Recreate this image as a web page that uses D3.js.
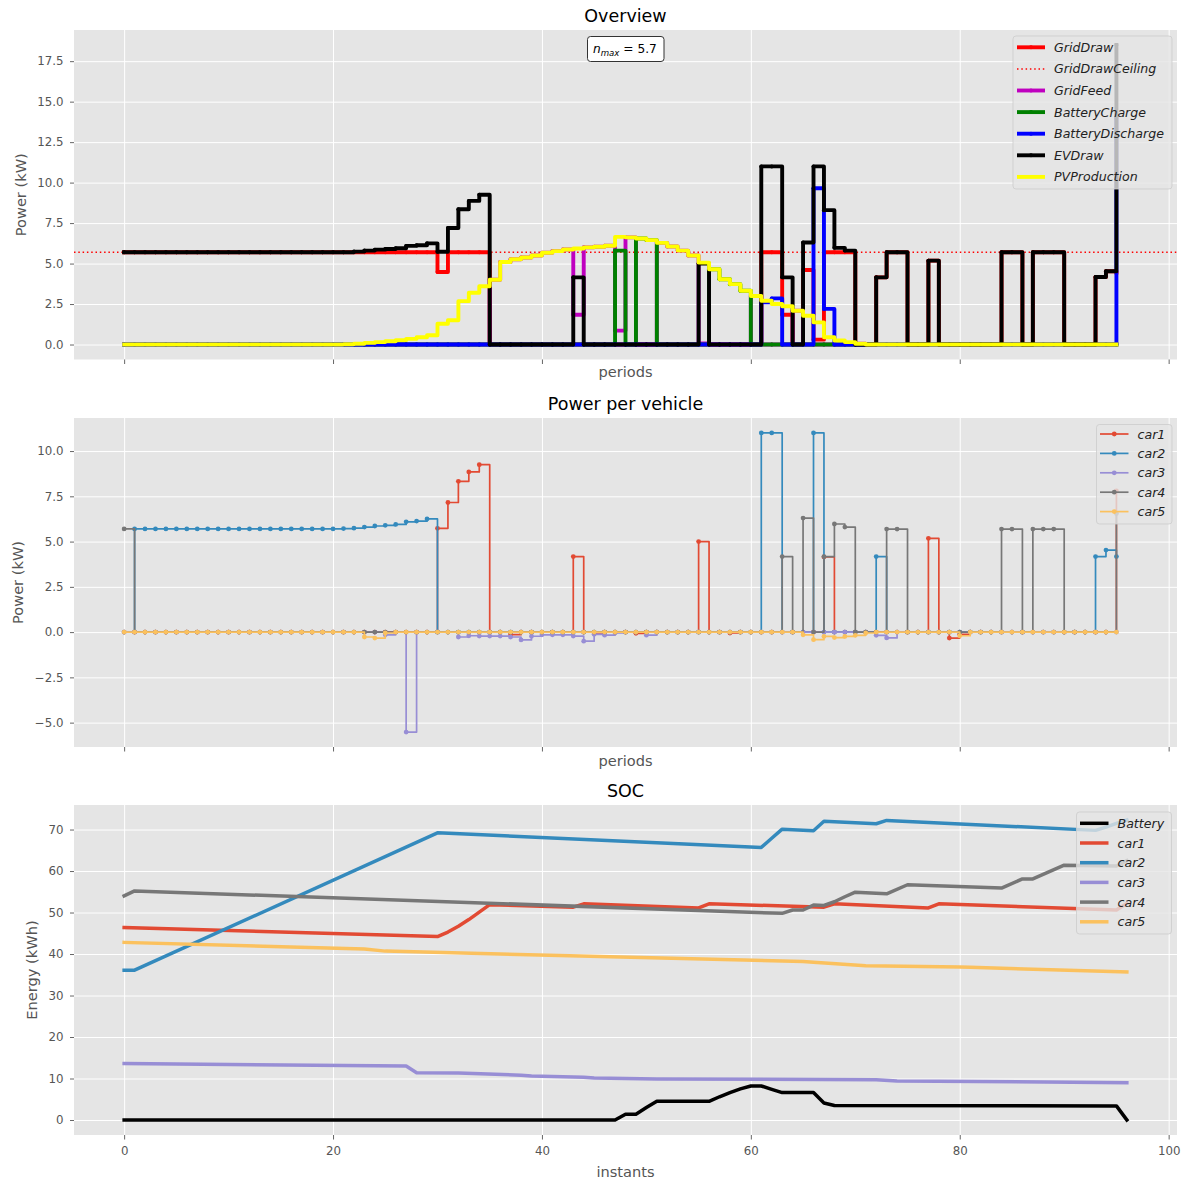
<!DOCTYPE html>
<html>
<head>
<meta charset="utf-8">
<script src="https://cdn.jsdelivr.net/npm/d3@7/dist/d3.min.js"></script>
<style>
  html, body { margin: 0; padding: 0; background: #ffffff; }
  svg { display: block; font-family: "DejaVu Sans", sans-serif; }
</style>
</head>
<body>
<svg id="chart" width="1190" height="1183"></svg>
<script>
// ---------------- data ----------------
const periods = d3.range(96);              // 15-minute periods 0..95
const xTicks = [0, 20, 40, 60, 80, 100];
const overviewTicks = [0, 2.5, 5, 7.5, 10, 12.5, 15, 17.5];
const vehicleTicks = [-5, -2.5, 0, 2.5, 5, 7.5, 10];
const socTicks = [0, 10, 20, 30, 40, 50, 60, 70];
const gridDrawCeiling = 5.7;
const nMax = 5.7;

// Overview (kW per period)
const gridDraw = [
  5.7,5.7,5.7,5.7,5.7,5.7,5.7,5.7,5.7,5.7,      // 0-9
  5.7,5.7,5.7,5.7,5.7,5.7,5.7,5.7,5.7,5.7,      // 10-19
  5.7,5.7,5.7,5.7,5.7,5.7,5.7,5.7,5.7,5.7,      // 20-29
  4.48,5.7,5.7,5.7,5.7,0,0,0,0,0,               // 30-39
  0,0,0,0,0,0,0,0,0,0,                          // 40-49
  0,0,0,0,0,0,0,0,0,0,                          // 50-59
  0,5.7,5.7,1.84,0,4.6,0.3,5.7,5.7,5.7,         // 60-69
  0,0,4.15,5.7,5.7,0,0,5.18,0,0,                // 70-79
  0,0,0,0,5.7,5.7,0,5.7,5.7,5.7,                // 80-89
  0,0,0,4.17,4.53,4.45                          // 90-95
];
const gridFeed = [
  0,0,0,0,0,0,0,0,0,0,
  0,0,0,0,0,0,0,0,0,0,
  0,0,0,0,0,0,0,0,0,0,
  0,0,0,0,0,4.0,5.1,5.27,5.37,5.5,
  5.67,5.77,5.87,1.84,6.0,6.04,6.1,0.86,6.62,0,
  0,6.28,6.05,5.8,5.5,0.06,0,0,0,0,
  3.0,0,0,0,2.09,0,0,0,0,0,
  0.05,0,0,0,0,0,0,0,0,0,
  0,0,0,0,0,0,0,0,0,0,
  0,0,0,0,0,0
];
const batteryCharge = [
  0,0,0,0,0,0,0,0,0,0,
  0,0,0,0,0,0,0,0,0,0,
  0,0,0,0,0,0,0,0,0,0,
  0,0,0,0,0,0,0,0,0,0,
  0,0,0,0,0,0,0,5.8,0,6.55,
  6.45,0,0,0,0,0,4.65,4.03,3.73,3.32,
  0,0,0,0,0,0,0,0,0,0,
  0,0,0,0,0,0,0,0,0,0,
  0,0,0,0,0,0,0,0,0,0,
  0,0,0,0,0,0
];
const batteryDischarge = [
  0,0,0,0,0,0,0,0,0,0,
  0,0,0,0,0,0,0,0,0,0,
  0,0,0,0,0,0,0,0,0,0,
  0,0,0,0,0,0,0,0,0,0,
  0,0,0,0,0,0,0,0,0,0,
  0,0,0,0,0,0,0,0,0,0,
  0,2.6,2.85,0,0,0,9.65,2.2,0,0,
  0,0,0,0,0,0,0,0,0,0,
  0,0,0,0,0,0,0,0,0,0,
  0,0,0,0,0,14.0
];
const evDraw = [
  5.7,5.7,5.7,5.7,5.7,5.7,5.7,5.7,5.7,5.7,
  5.7,5.7,5.7,5.7,5.7,5.7,5.7,5.7,5.7,5.7,
  5.7,5.7,5.74,5.8,5.86,5.9,5.95,6.09,6.13,6.25,
  5.73,7.2,8.35,8.87,9.25,0,0,0,0,0,
  0,0,0,4.15,0,0,0,0,0,0,
  0,0,0,0,0,5.0,0,0,0,0,
  0,11.0,11.0,4.15,0,6.3,11.0,8.3,5.97,5.8,
  0,0,4.15,5.7,5.7,0,0,5.18,0,0,
  0,0,0,0,5.7,5.7,0,5.7,5.7,5.7,
  0,0,0,4.17,4.53,18.5
];
const pvProduction = [
  0,0,0,0,0,0,0,0,0,0,
  0,0,0,0,0,0,0,0,0,0,
  0,0.02,0.05,0.1,0.15,0.2,0.27,0.35,0.45,0.57,
  1.28,1.5,2.68,3.2,3.6,4.0,5.1,5.27,5.37,5.5,
  5.67,5.77,5.87,5.93,6.0,6.04,6.1,6.65,6.62,6.55,
  6.45,6.28,6.05,5.8,5.5,5.06,4.65,4.03,3.73,3.32,
  3.0,2.7,2.5,2.36,2.09,1.78,1.37,0.45,0.25,0.15,
  0.05,0,0,0,0,0,0,0,0,0,
  0,0,0,0,0,0,0,0,0,0,
  0,0,0,0,0,0
];

// Power per vehicle (kW per period)
const car1 = [
  0,0,0,0,0,0,0,0,0,0,
  0,0,0,0,0,0,0,0,0,0,
  0,0,0,0,0,0,0,0,0,0,
  5.73,7.16,8.33,8.85,9.25,0,0,-0.14,0,0,
  0,0,0,4.17,0,-0.05,0,0,0,-0.07,
  0,0,0,0,0,5.0,0,0,-0.05,0,
  0,0,0,0,0,0,0,4.15,0,0,
  0,0,0,0,0,0,0,5.18,0,-0.33,
  -0.12,0,0,0,0,0,0,0,0,0,
  0,0,0,0,0,7.8
];
const car2 = [
  0,5.7,5.7,5.7,5.7,5.7,5.7,5.7,5.7,5.7,
  5.7,5.7,5.7,5.7,5.7,5.7,5.7,5.7,5.7,5.7,
  5.7,5.72,5.74,5.8,5.86,5.9,5.95,6.09,6.13,6.25,
  0,0,0,0,0,0,0,0,0,0,
  0,0,0,0,0,0,0,0,0,0,
  0,0,0,0,0,0,0,0,0,0,
  0,11.0,11.0,0,0,0,11.0,0,0,0,
  0,0,4.17,0,0,0,0,0,0,0,
  0,0,0,0,0,0,0,0,0,0,
  0,0,0,4.17,4.53,4.17
];
const car3 = [
  0,0,0,0,0,0,0,0,0,0,
  0,0,0,0,0,0,0,0,0,0,
  0,0,0,0,0,-0.15,0,-5.52,0,0,
  0,0,-0.27,-0.2,-0.22,-0.22,-0.22,-0.27,-0.43,-0.23,
  -0.15,-0.15,-0.15,-0.22,-0.5,-0.12,-0.17,-0.05,0,0,
  -0.17,0,0,0,0,0,0,0,0,0,
  0,0,0,0,0,0,0,0,0,0,
  0,0,-0.18,-0.32,0,0,0,0,0,0,
  0,0,0,0,0,0,0,0,0,0,
  0,0,0,0,0,0
];
const car4 = [
  5.7,0,0,0,0,0,0,0,0,0,
  0,0,0,0,0,0,0,0,0,0,
  0,0,0,0,0,0,0,0,0,0,
  0,0,0,0,0,0,0,0,0,0,
  0,0,0,0,0,0,0,0,0,0,
  0,0,0,0,0,0,0,0,0,0,
  0,0,0,4.17,0,6.3,0,4.17,5.97,5.8,
  0,0,0,5.69,5.69,0,0,0,0,0,
  0,0,0,0,5.69,5.69,0,5.69,5.69,5.69,
  0,0,0,0,0,6.55
];
const car5 = [
  0,0,0,0,0,0,0,0,0,0,
  0,0,0,0,0,0,0,0,0,0,
  0,0,0,-0.27,-0.33,-0.05,0,0,0,0,
  0,0,0,0,0,0,0,0,0,0,
  0,0,0,0,0,0,0,0,0,0,
  0,0,0,0,0,0,0,0,0,0,
  0,0,0,0,0,-0.15,-0.42,-0.24,-0.3,-0.24,
  -0.18,-0.05,0,0,0,0,0,0,0,0,
  -0.2,0,0,0,0,0,0,0,0,0,
  0,0,0,0,0,0
];

// State of charge (kWh) at the instants where each trace changes slope
const socBattery = [[0,0],[47,0],[48,1.4],[49,1.4],[50,3.0],[51,4.5],[56,4.5],[57,5.6],[58,6.6],[59,7.5],[60,8.2],[61,8.2],[62,7.4],[63,6.6],[66,6.6],[67,4.1],[68,3.5],[95,3.4],[96,0]];
const socCar1 = [[0,46.4],[30,44.2],[31,45.3],[32,46.7],[33,48.3],[34,50.1],[35,51.9],[43,51.3],[44,52.1],[55,51.1],[56,52.1],[67,51.3],[68,52.1],[77,51.1],[78,52.1],[95,50.6],[96,52.2]];
const socCar2 = [[0,36.1],[1,36.1],[30,69.2],[61,65.7],[62,67.9],[63,70.1],[66,69.7],[67,72.0],[72,71.4],[73,72.2],[93,69.8],[94,70.6],[95,71.5],[96,72.3]];
const socCar3 = [[0,13.6],[27,13.0],[28,11.4],[32,11.3],[38,10.8],[39,10.6],[44,10.3],[45,10.1],[51,9.9],[72,9.7],[74,9.4],[96,9.0]];
const socCar4 = [[0,54.0],[1,55.2],[63,49.8],[64,50.6],[65,50.6],[66,51.8],[67,51.7],[68,52.6],[69,53.8],[70,54.9],[73,54.5],[75,56.7],[84,55.9],[86,58.1],[87,58.1],[90,61.4],[95,61.2],[96,62.5]];
const socCar5 = [[0,42.8],[23,41.2],[25,40.7],[65,38.2],[66,38.0],[71,37.2],[80,36.9],[81,36.8],[96,35.7]];

// ---------------- layout & style ----------------
const svg = d3.select("#chart");
const AX = { left: 74, right: 1177 };
const PANELS = [
  { top: 30,  bottom: 359.5 },
  { top: 418, bottom: 747 },
  { top: 805, bottom: 1135 }
];
const TICK_FONT = 11.8, LABEL_FONT = 14.6, TITLE_FONT = 17.5, LEGEND_FONT = 12.6;
const GREY = "#555555";
const ggplot = ["#E24A33", "#348ABD", "#988ED5", "#777777", "#FBC15E"];
const OVERVIEW_LW = 3.9;

const x = d3.scaleLinear().domain([-4.8, 100.8]).range([AX.left, AX.right]);

function padded(arr) {
  const lo = d3.min(arr), hi = d3.max(arr), m = (hi - lo) * 0.05;
  return [lo - m, hi + m];
}

function drawFrame(idx, p, y, yTicks, yFmt, o) {
  const g = svg.append("g");
  g.append("rect")
    .attr("x", AX.left).attr("y", p.top)
    .attr("width", AX.right - AX.left).attr("height", p.bottom - p.top)
    .attr("fill", "#E5E5E5");

  const styleGrid = s => {
    s.select(".domain").remove();
    s.selectAll("line").attr("stroke", "#ffffff").attr("stroke-width", 1);
  };
  g.append("g").attr("transform", `translate(0,${p.bottom})`)
    .call(d3.axisBottom(x).tickValues(xTicks).tickSize(-(p.bottom - p.top)).tickFormat(""))
    .call(styleGrid);
  g.append("g").attr("transform", `translate(${AX.left},0)`)
    .call(d3.axisLeft(y).tickValues(yTicks).tickSize(-(AX.right - AX.left)).tickFormat(""))
    .call(styleGrid);

  const styleTicks = s => {
    s.select(".domain").remove();
    s.selectAll("line").attr("stroke", GREY).attr("stroke-width", 0.9);
    s.selectAll("text").attr("fill", GREY).attr("font-size", TICK_FONT)
      .attr("font-family", "DejaVu Sans");
  };
  g.append("g").attr("transform", `translate(${AX.left},0)`)
    .call(d3.axisLeft(y).tickValues(yTicks).tickSize(4).tickPadding(6.5).tickFormat(yFmt))
    .call(styleTicks);
  g.append("g").attr("transform", `translate(0,${p.bottom})`)
    .call(d3.axisBottom(x).tickValues(xTicks).tickSize(4.5).tickPadding(7)
      .tickFormat(o.xLabels ? d3.format("d") : ""))
    .call(styleTicks);

  svg.append("text")
    .attr("x", (AX.left + AX.right) / 2).attr("y", p.top - 8)
    .attr("text-anchor", "middle").attr("font-size", TITLE_FONT).attr("fill", "#000")
    .text(o.title);
  svg.append("text")
    .attr("x", (AX.left + AX.right) / 2).attr("y", p.bottom + o.xLabelOffset)
    .attr("text-anchor", "middle").attr("font-size", LABEL_FONT).attr("fill", GREY)
    .text(o.xLabel);
  svg.append("text")
    .attr("transform", `translate(${o.yLabelX},${(p.top + p.bottom) / 2}) rotate(-90)`)
    .attr("text-anchor", "middle").attr("font-size", LABEL_FONT).attr("fill", GREY)
    .text(o.yLabel);

  svg.append("clipPath").attr("id", "clip" + idx)
    .append("rect").attr("x", AX.left).attr("y", p.top)
    .attr("width", AX.right - AX.left).attr("height", p.bottom - p.top);
  return svg.append("g").attr("clip-path", `url(#clip${idx})`);
}

function drawLegend(box, items, row0, step, sx0, sx1, tx) {
  const g = svg.append("g");
  g.append("rect")
    .attr("x", box.x0).attr("y", box.y0)
    .attr("width", box.x1 - box.x0).attr("height", box.y1 - box.y0)
    .attr("rx", 3).attr("fill", "#E5E5E5").attr("fill-opacity", 0.8)
    .attr("stroke", "#CCCCCC").attr("stroke-opacity", 0.8).attr("stroke-width", 1);
  items.forEach((it, i) => {
    const yy = row0 + i * step;
    g.append("line")
      .attr("x1", sx0).attr("x2", sx1).attr("y1", yy).attr("y2", yy)
      .attr("stroke", it.color).attr("stroke-width", it.width)
      .attr("stroke-dasharray", it.dash || null);
    if (it.marker) {
      g.append("circle").attr("cx", (sx0 + sx1) / 2).attr("cy", yy)
        .attr("r", it.marker).attr("fill", it.color);
    }
    g.append("text")
      .attr("x", tx).attr("y", yy).attr("dy", "0.36em")
      .attr("font-size", LEGEND_FONT).attr("font-style", "italic").attr("fill", "#222")
      .text(it.name);
  });
}

// ---------------- panel 1: overview ----------------
const overviewSeries = [
  { name: "GridDraw",         values: gridDraw,         color: "#FF0000", marker: 2 },
  { name: "GridFeed",         values: gridFeed,         color: "#BF00BF", marker: 2 },
  { name: "BatteryCharge",    values: batteryCharge,    color: "#008000", marker: 2 },
  { name: "BatteryDischarge", values: batteryDischarge, color: "#0000FF", marker: 2 },
  { name: "EVDraw",           values: evDraw,           color: "#000000", marker: 2 },
  { name: "PVProduction",     values: pvProduction,     color: "#FFFF00", marker: 0 }
];
const y1 = d3.scaleLinear()
  .domain(padded(overviewSeries.flatMap(s => s.values)))
  .range([PANELS[0].bottom, PANELS[0].top]);
const g1 = drawFrame(1, PANELS[0], y1, overviewTicks, d3.format(".1f"), {
  title: "Overview", xLabel: "periods", xLabelOffset: 17.5,
  yLabel: "Power (kW)", yLabelX: 25.5, xLabels: false
});
const stepLine = y => d3.line().x((d, i) => x(periods[i])).y(d => y(d)).curve(d3.curveStepAfter);

function drawOverviewSeries(s) {
  g1.append("path").datum(s.values)
    .attr("d", stepLine(y1)).attr("fill", "none")
    .attr("stroke", s.color).attr("stroke-width", OVERVIEW_LW)
    .attr("stroke-linejoin", "round").attr("stroke-linecap", "square");
  if (s.marker) {
    g1.append("g").selectAll("circle").data(s.values).join("circle")
      .attr("cx", (d, i) => x(periods[i])).attr("cy", d => y1(d))
      .attr("r", s.marker).attr("fill", s.color);
  }
}
drawOverviewSeries(overviewSeries[0]);
// grid draw ceiling
g1.append("line")
  .attr("x1", AX.left).attr("x2", AX.right)
  .attr("y1", y1(gridDrawCeiling)).attr("y2", y1(gridDrawCeiling))
  .attr("stroke", "#FF0000").attr("stroke-width", 1.5).attr("stroke-dasharray", "1.5,2.8");
overviewSeries.slice(1).forEach(drawOverviewSeries);

// n_max annotation
svg.append("rect").attr("x", 587.5).attr("y", 36.5).attr("width", 76.5).attr("height", 25)
  .attr("rx", 3).attr("fill", "#ffffff").attr("stroke", "#333").attr("stroke-width", 1);
const ann = svg.append("text").attr("x", 593).attr("y", 53).attr("font-size", 12.2).attr("fill", "#000");
ann.append("tspan").attr("font-style", "italic").text("n");
ann.append("tspan").attr("font-style", "italic").attr("font-size", 8.6).attr("dy", 3).text("max");
ann.append("tspan").attr("dy", -3).text(" = " + nMax);

drawLegend({ x0: 1013, y0: 36, x1: 1172, y1: 189 }, [
  { name: "GridDraw",         color: "#FF0000", width: OVERVIEW_LW, marker: 2 },
  { name: "GridDrawCeiling",  color: "#FF0000", width: 1.5, dash: "1.5,2.8" },
  { name: "GridFeed",         color: "#BF00BF", width: OVERVIEW_LW, marker: 2 },
  { name: "BatteryCharge",    color: "#008000", width: OVERVIEW_LW, marker: 2 },
  { name: "BatteryDischarge", color: "#0000FF", width: OVERVIEW_LW, marker: 2 },
  { name: "EVDraw",           color: "#000000", width: OVERVIEW_LW, marker: 2 },
  { name: "PVProduction",     color: "#FFFF00", width: OVERVIEW_LW }
], 47.3, 21.6, 1017, 1045, 1054);

// ---------------- panel 2: power per vehicle ----------------
const vehicleSeries = [
  { name: "car1", values: car1 },
  { name: "car2", values: car2 },
  { name: "car3", values: car3 },
  { name: "car4", values: car4 },
  { name: "car5", values: car5 }
];
const y2 = d3.scaleLinear()
  .domain(padded(vehicleSeries.flatMap(s => s.values)))
  .range([PANELS[1].bottom, PANELS[1].top]);
const g2 = drawFrame(2, PANELS[1], y2, vehicleTicks, d3.format(".1f"), {
  title: "Power per vehicle", xLabel: "periods", xLabelOffset: 18.5,
  yLabel: "Power (kW)", yLabelX: 22.5, xLabels: false
});
vehicleSeries.forEach((s, k) => {
  g2.append("path").datum(s.values)
    .attr("d", stepLine(y2)).attr("fill", "none")
    .attr("stroke", ggplot[k]).attr("stroke-width", 1.7).attr("stroke-linejoin", "round");
  g2.append("g").selectAll("circle").data(s.values).join("circle")
    .attr("cx", (d, i) => x(periods[i])).attr("cy", d => y2(d))
    .attr("r", 2.4).attr("fill", ggplot[k]);
});
drawLegend({ x0: 1096.5, y0: 424.5, x1: 1172, y1: 524 },
  vehicleSeries.map((s, k) => ({ name: s.name, color: ggplot[k], width: 1.7, marker: 2.4 })),
  434, 19.4, 1100, 1128.5, 1137.5);

// ---------------- panel 3: state of charge ----------------
const socSeries = [
  { name: "Battery", values: socBattery, color: "#000000" },
  { name: "car1",    values: socCar1,    color: ggplot[0] },
  { name: "car2",    values: socCar2,    color: ggplot[1] },
  { name: "car3",    values: socCar3,    color: ggplot[2] },
  { name: "car4",    values: socCar4,    color: ggplot[3] },
  { name: "car5",    values: socCar5,    color: ggplot[4] }
];
const y3 = d3.scaleLinear()
  .domain(padded(socSeries.flatMap(s => s.values.map(d => d[1]))))
  .range([PANELS[2].bottom, PANELS[2].top]);
const g3 = drawFrame(3, PANELS[2], y3, socTicks, d3.format("d"), {
  title: "SOC", xLabel: "instants", xLabelOffset: 41.5,
  yLabel: "Energy (kWh)", yLabelX: 37, xLabels: true
});
const socLine = d3.line().x(d => x(d[0])).y(d => y3(d[1]));
socSeries.forEach(s => {
  g3.append("path").datum(s.values)
    .attr("d", socLine).attr("fill", "none")
    .attr("stroke", s.color).attr("stroke-width", 3.5)
    .attr("stroke-linejoin", "round").attr("stroke-linecap", "square");
});
drawLegend({ x0: 1076.5, y0: 812, x1: 1171.5, y1: 934 },
  socSeries.map(s => ({ name: s.name, color: s.color, width: 3.5 })),
  823.3, 19.7, 1080, 1108.5, 1117.5);
</script>
</body>
</html>
